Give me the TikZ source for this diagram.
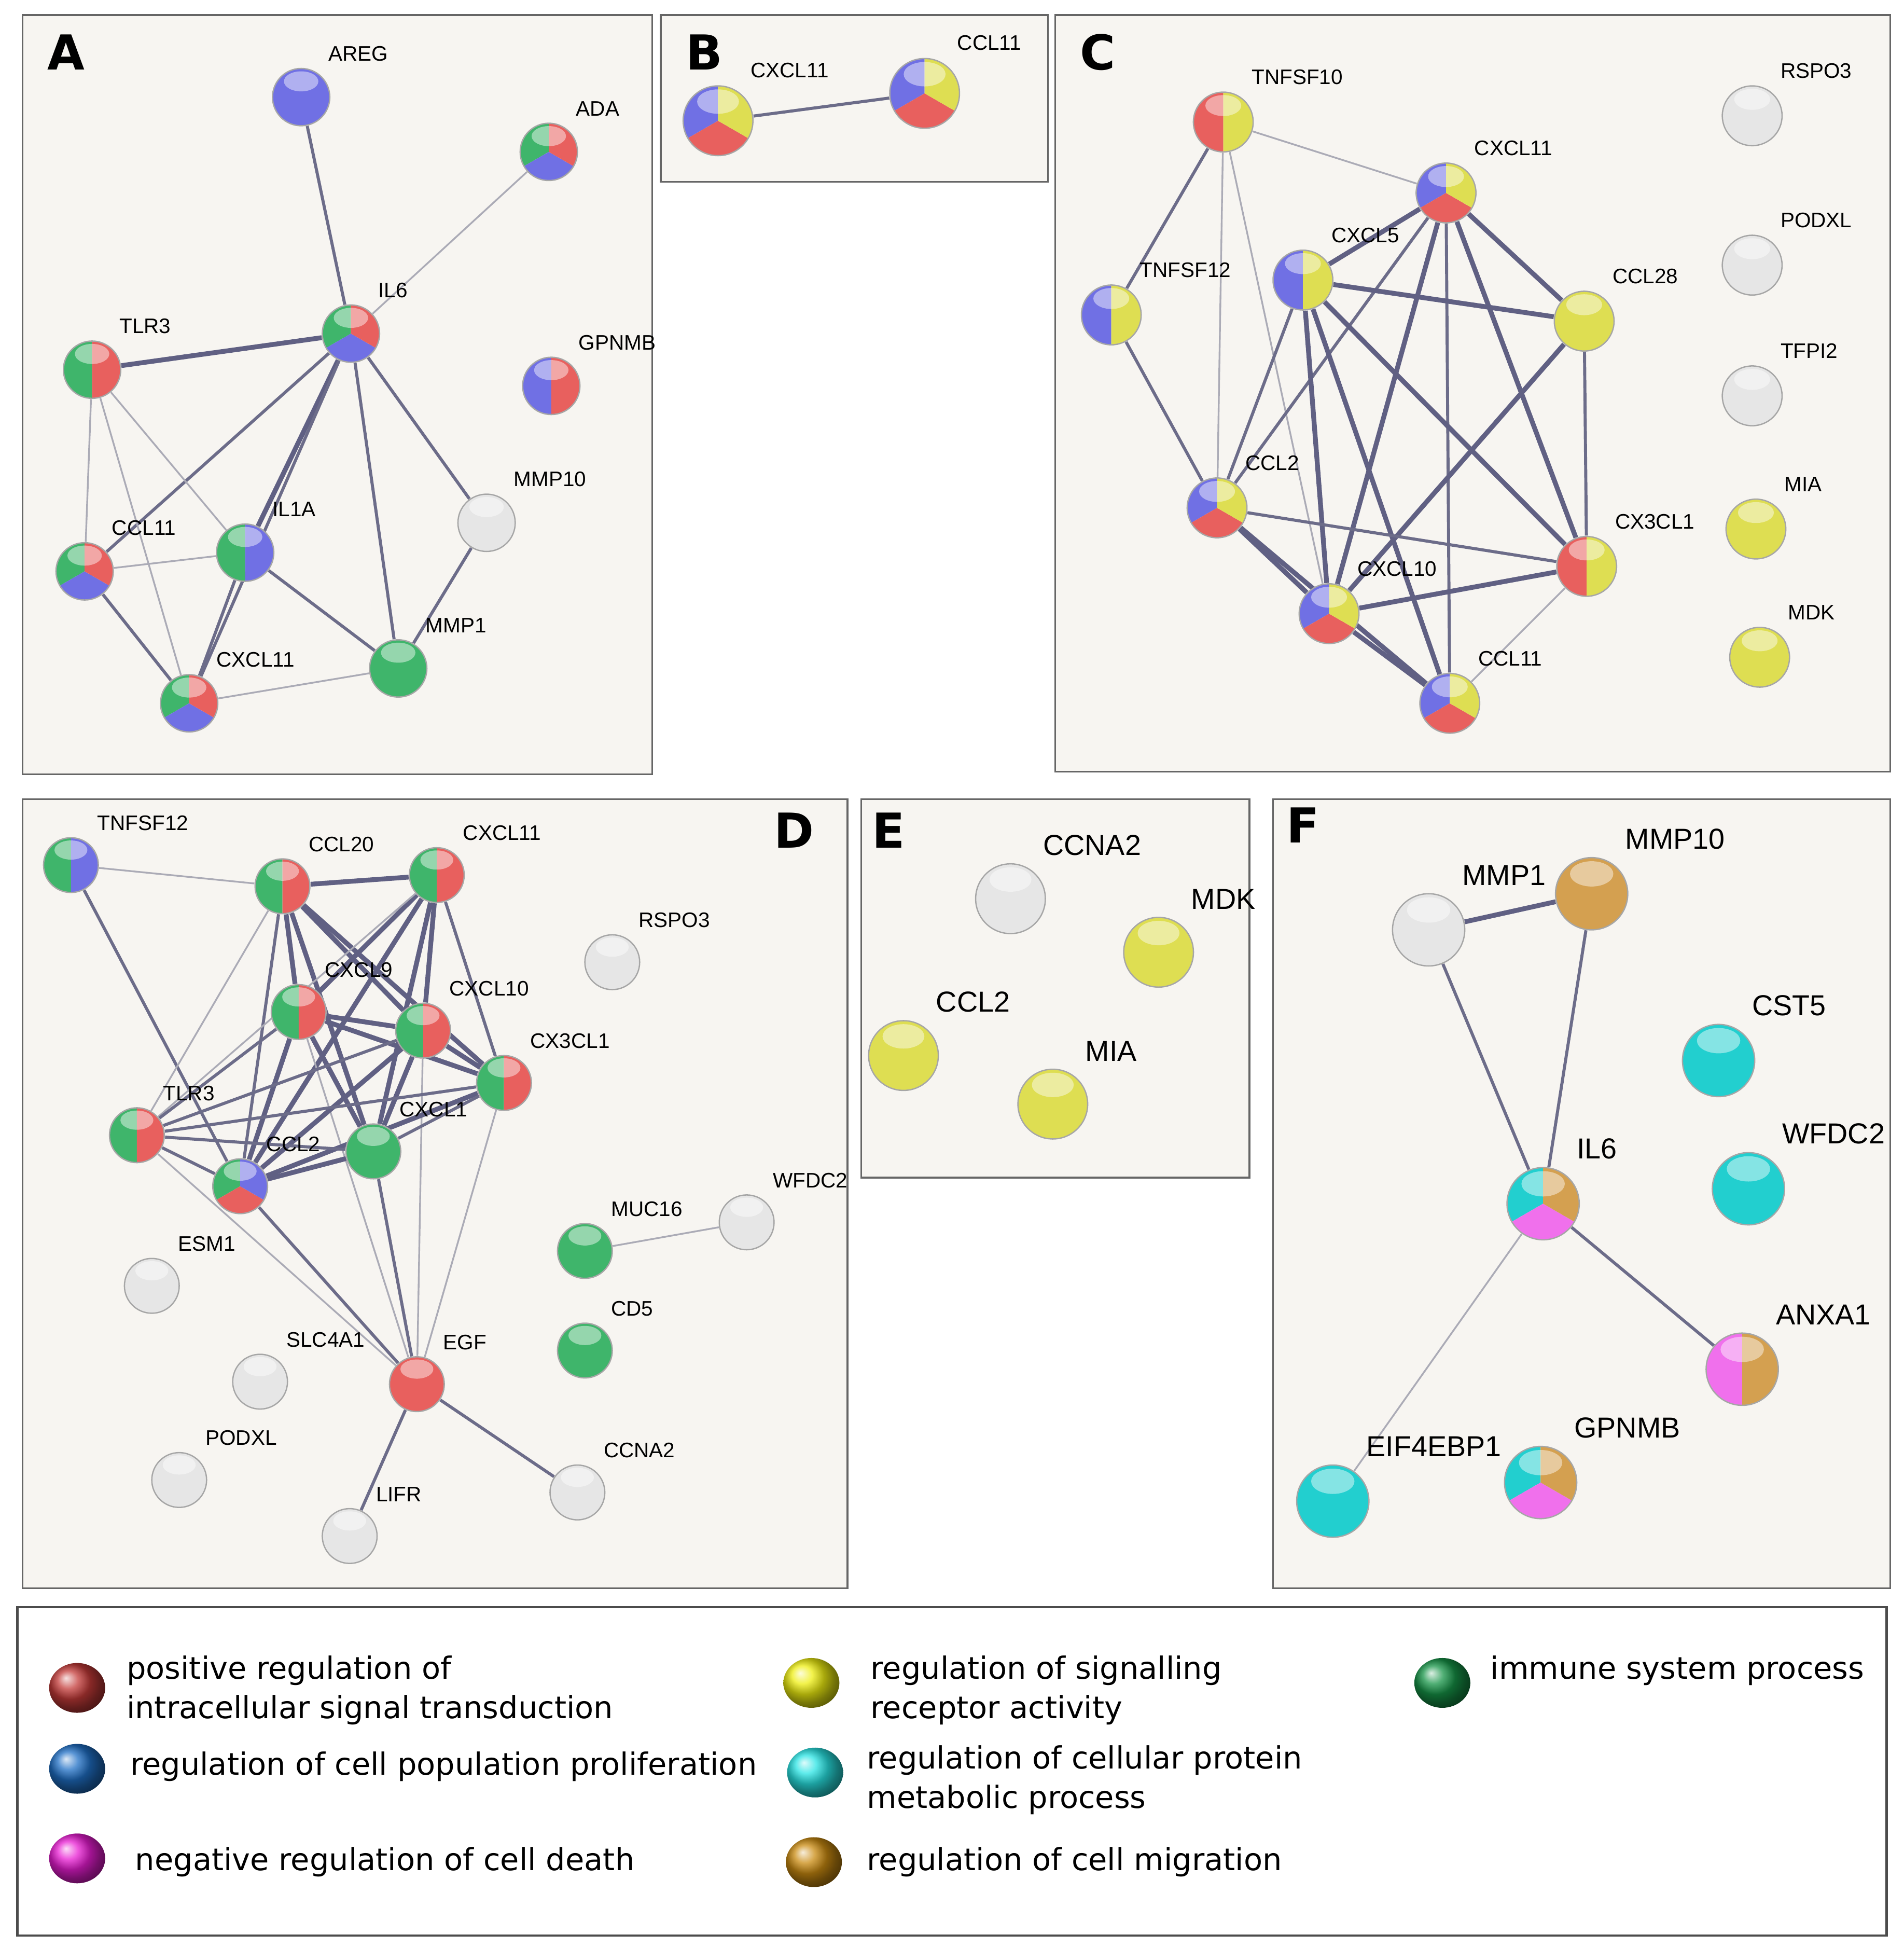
\documentclass[tikz,border=0pt]{standalone}
\usepackage{fontspec}
\usetikzlibrary{shapes.geometric}
\setmainfont{Liberation Sans}
\newfontfamily\legf{DejaVu Sans}
\newfontfamily\panf{DejaVu Sans}
\definecolor{cR}{HTML}{E8605E}\definecolor{cB}{HTML}{7070E4}\definecolor{cG}{HTML}{3FB56B}
\definecolor{cY}{HTML}{DEDE52}\definecolor{cW}{HTML}{E6E6E6}\definecolor{cC}{HTML}{22CFCF}
\definecolor{cM}{HTML}{F070EC}\definecolor{cO}{HTML}{D4A050}
\definecolor{lR}{HTML}{C33A38}\definecolor{lB}{HTML}{1F6FC5}\definecolor{lM}{HTML}{E81CD2}
\definecolor{lY}{HTML}{EEEE10}\definecolor{lC}{HTML}{28E4E4}\definecolor{lO}{HTML}{C98A10}\definecolor{lG}{HTML}{169447}
\definecolor{pan}{HTML}{F7F5F1}
\pgfdeclarelayer{bg}\pgfdeclarelayer{edges}\pgfsetlayers{bg,edges,main}
\newcommand\gball[6]{% name, pos, radius(cm), n, colors, label
 \node[circle,minimum size=#3*2cm,inner sep=0] (#1) at (#2) {};
 \foreach \c [count=\i from 0] in {#5} {
  \pgfmathsetmacro\aa{90+\i*360/#4}
  \fill[\c] (#1.center) -- ++(\aa:#3cm) arc[start angle=\aa, delta angle=360/#4, radius=#3cm] -- cycle;}
 \fill[white,opacity=.45] ([yshift={0.55*#3 cm}]#1.center) ellipse [x radius={0.6*#3 cm}, y radius={0.35*#3 cm}];
 \draw[black!35,line width=.3pt] (#1.center) circle [radius=#3cm];
 \node[lab,anchor=south west] at ([xshift={0.85*#3 cm},yshift={1.15*#3 cm}]#1.center) {#6};}
\tikzset{lab/.style={font=\fontsize{4.8}{5}\selectfont,inner sep=0.5pt},
 tk/.style={draw=black!45!blue!25!gray,line width=1.1pt},
 md/.style={draw=black!25!blue!15!gray,line width=.7pt},
 tn/.style={draw=black!25!blue!10!gray!60,line width=.4pt},
 panel/.style={draw=black!60,fill=pan,line width=.4pt},
 plet/.style={font=\panf\bfseries\fontsize{11}{12}\selectfont},
 legt/.style={font=\legf\fontsize{7}{9}\selectfont,anchor=west,align=left,inner sep=0}}
\begin{document}
\begin{tikzpicture}[x=0.01cm,y=-0.01cm]
\useasboundingbox (0,0) rectangle (1530,1565);
\begin{pgfonlayer}{bg}
\fill[white] (0,0) rectangle (1530,1565);
\draw[panel] (18,12) rectangle (524,622);
\draw[panel] (531,12) rectangle (842,146);
\draw[panel] (848,12) rectangle (1519,620);
\draw[panel] (18,642) rectangle (681,1276);
\draw[panel] (692,642) rectangle (1004,946);
\draw[panel] (1023,642) rectangle (1519,1276);
\draw[draw=black!70,fill=white,line width=.5pt] (14,1291) rectangle (1516,1555);
\end{pgfonlayer}
\node[plet] at (53,42) {A};\node[plet] at (566,42) {B};\node[plet] at (882,42) {C};
\node[plet] at (638,667) {D};\node[plet] at (714,667) {E};\node[plet] at (1047,663) {F};
% A
\gball{aAREG}{242,78}{0.23}{1}{cB}{AREG}
\gball{aADA}{441,122}{0.23}{3}{cG,cB,cR}{ADA}
\gball{aIL6}{282,268}{0.23}{3}{cG,cB,cR}{IL6}
\gball{aTLR3}{74,297}{0.23}{2}{cG,cR}{TLR3}
\gball{aGPNMB}{443,310}{0.23}{2}{cB,cR}{GPNMB}
\gball{aMMP10}{391,420}{0.23}{1}{cW}{MMP10}
\gball{aCCL11}{68,459}{0.23}{3}{cG,cB,cR}{CCL11}
\gball{aIL1A}{197,444}{0.23}{2}{cG,cB}{IL1A}
\gball{aMMP1}{320,537}{0.23}{1}{cG}{MMP1}
\gball{aCXCL11}{152,565}{0.23}{3}{cG,cB,cR}{CXCL11}
% B
\gball{bCXCL11}{577,97}{0.28}{3}{cB,cR,cY}{CXCL11}
\gball{bCCL11}{743,75}{0.28}{3}{cB,cR,cY}{CCL11}
% C
\gball{cTNFSF10}{983,98}{0.24}{2}{cR,cY}{TNFSF10}
\gball{cTNFSF12}{893,253}{0.24}{2}{cB,cY}{TNFSF12}
\gball{cCXCL11}{1162,155}{0.24}{3}{cB,cR,cY}{CXCL11}
\gball{cCXCL5}{1047,225}{0.24}{2}{cB,cY}{CXCL5}
\gball{cCCL28}{1273,258}{0.24}{1}{cY}{CCL28}
\gball{cCCL2}{978,408}{0.24}{3}{cB,cR,cY}{CCL2}
\gball{cCX3CL1}{1275,455}{0.24}{2}{cR,cY}{CX3CL1}
\gball{cCXCL10}{1068,493}{0.24}{3}{cB,cR,cY}{CXCL10}
\gball{cCCL11}{1165,565}{0.24}{3}{cB,cR,cY}{CCL11}
\gball{cRSPO3}{1408,93}{0.24}{1}{cW}{RSPO3}
\gball{cPODXL}{1408,213}{0.24}{1}{cW}{PODXL}
\gball{cTFPI2}{1408,318}{0.24}{1}{cW}{TFPI2}
\gball{cMIA}{1411,425}{0.24}{1}{cY}{MIA}
\gball{cMDK}{1414,528}{0.24}{1}{cY}{MDK}
% D
\gball{dTNFSF12}{57,695}{0.22}{2}{cG,cB}{TNFSF12}
\gball{dCCL20}{227,712}{0.22}{2}{cG,cR}{CCL20}
\gball{dCXCL11}{351,703}{0.22}{2}{cG,cR}{CXCL11}
\gball{dRSPO3}{492,773}{0.22}{1}{cW}{RSPO3}
\gball{dCXCL9}{240,813}{0.22}{2}{cG,cR}{CXCL9}
\gball{dCXCL10}{340,828}{0.22}{2}{cG,cR}{CXCL10}
\gball{dCX3CL1}{405,870}{0.22}{2}{cG,cR}{CX3CL1}
\gball{dTLR3}{110,912}{0.22}{2}{cG,cR}{TLR3}
\gball{dCXCL1}{300,925}{0.22}{1}{cG}{CXCL1}
\gball{dCCL2}{193,953}{0.22}{3}{cG,cR,cB}{CCL2}
\gball{dESM1}{122,1033}{0.22}{1}{cW}{ESM1}
\gball{dMUC16}{470,1005}{0.22}{1}{cG}{MUC16}
\gball{dWFDC2}{600,982}{0.22}{1}{cW}{WFDC2}
\gball{dCD5}{470,1085}{0.22}{1}{cG}{CD5}
\gball{dSLC4A1}{209,1110}{0.22}{1}{cW}{SLC4A1}
\gball{dEGF}{335,1112}{0.22}{1}{cR}{EGF}
\gball{dPODXL}{144,1189}{0.22}{1}{cW}{PODXL}
\gball{dCCNA2}{464,1199}{0.22}{1}{cW}{CCNA2}
\gball{dLIFR}{281,1234}{0.22}{1}{cW}{LIFR}
% E
\tikzset{lab/.append style={font=\fontsize{6.6}{7}\selectfont}}
\gball{eCCNA2}{812,722}{0.28}{1}{cW}{CCNA2}
\gball{eMDK}{931,765}{0.28}{1}{cY}{MDK}
\gball{eCCL2}{726,848}{0.28}{1}{cY}{CCL2}
\gball{eMIA}{846,887}{0.28}{1}{cY}{MIA}
% F
\gball{fMMP1}{1148,747}{0.29}{1}{cW}{MMP1}
\gball{fMMP10}{1279,718}{0.29}{1}{cO}{MMP10}
\gball{fCST5}{1381,852}{0.29}{1}{cC}{CST5}
\gball{fWFDC2}{1405,955}{0.29}{1}{cC}{WFDC2}
\gball{fIL6}{1240,967}{0.29}{3}{cC,cM,cO}{IL6}
\gball{fANXA1}{1400,1100}{0.29}{2}{cM,cO}{ANXA1}
\gball{fEIF4EBP1}{1071,1206}{0.29}{1}{cC}{EIF4EBP1}
\gball{fGPNMB}{1238,1191}{0.29}{3}{cC,cM,cO}{GPNMB}
\begin{pgfonlayer}{edges}
\foreach \s/\a/\b in {md/aAREG/aIL6,tn/aADA/aIL6,tk/aTLR3/aIL6,md/aIL6/aCCL11,tk/aIL6/aIL1A,md/aIL6/aCXCL11,md/aIL6/aMMP1,md/aIL6/aMMP10,tn/aTLR3/aCCL11,tn/aTLR3/aIL1A,tn/aTLR3/aCXCL11,tn/aCCL11/aIL1A,md/aCCL11/aCXCL11,md/aIL1A/aCXCL11,md/aIL1A/aMMP1,md/aMMP10/aMMP1,tn/aCXCL11/aMMP1,
 md/bCXCL11/bCCL11,
 tn/cTNFSF10/cCXCL11,md/cTNFSF10/cTNFSF12,tn/cTNFSF10/cCCL2,tn/cTNFSF10/cCXCL10,md/cTNFSF12/cCCL2,tk/cCXCL11/cCXCL5,md/cCXCL11/cCCL2,tk/cCXCL11/cCXCL10,md/cCXCL11/cCCL11,tk/cCXCL11/cCX3CL1,tk/cCXCL11/cCCL28,tk/cCXCL5/cCCL28,md/cCXCL5/cCCL2,tk/cCXCL5/cCXCL10,tk/cCXCL5/cCCL11,tk/cCXCL5/cCX3CL1,md/cCCL28/cCX3CL1,tk/cCCL28/cCXCL10,md/cCCL2/cCX3CL1,tk/cCCL2/cCXCL10,tk/cCCL2/cCCL11,tk/cCXCL10/cCX3CL1,tk/cCXCL10/cCCL11,tn/cCX3CL1/cCCL11,
 tn/dTNFSF12/dCCL20,md/dTNFSF12/dCCL2,tk/dCCL20/dCXCL11,tk/dCCL20/dCXCL9,tk/dCCL20/dCXCL10,tk/dCCL20/dCX3CL1,tn/dCCL20/dTLR3,md/dCCL20/dCCL2,tk/dCCL20/dCXCL1,tk/dCXCL11/dCXCL9,tk/dCXCL11/dCXCL10,md/dCXCL11/dCX3CL1,tk/dCXCL11/dCXCL1,tk/dCXCL11/dCCL2,tn/dCXCL11/dTLR3,tk/dCXCL9/dCXCL10,tk/dCXCL9/dCX3CL1,md/dCXCL9/dTLR3,tk/dCXCL9/dCXCL1,tk/dCXCL9/dCCL2,tn/dCXCL9/dEGF,tk/dCXCL10/dCX3CL1,md/dCXCL10/dTLR3,tk/dCXCL10/dCCL2,tk/dCXCL10/dCXCL1,tn/dCXCL10/dEGF,md/dCX3CL1/dTLR3,tk/dCX3CL1/dCCL2,md/dCX3CL1/dCXCL1,tn/dCX3CL1/dEGF,md/dTLR3/dCCL2,md/dTLR3/dCXCL1,tn/dTLR3/dEGF,tk/dCCL2/dCXCL1,md/dCCL2/dEGF,md/dCXCL1/dEGF,tn/dMUC16/dWFDC2,md/dEGF/dLIFR,md/dEGF/dCCNA2,
 tk/fMMP1/fMMP10,md/fMMP1/fIL6,md/fMMP10/fIL6,md/fIL6/fANXA1,tn/fIL6/fEIF4EBP1}
 \draw[\s] (\a) -- (\b);
\end{pgfonlayer}
% legend
\foreach \n/\c/\x/\y in {lr/lR/62/1356,lb/lB/62/1421,lm/lM/62/1493,ly/lY/652/1352,lc/lC/655/1424,lo/lO/654/1496,lg/lG/1159/1352}{
 \node[ellipse,minimum width=0.45cm,minimum height=0.4cm,inner sep=0] (\n) at (\x,\y) {};
 \shade[ball color=\c] (\x,\y) ellipse [x radius=0.225cm,y radius=0.2cm];}
\node[legt] (t1) at (101,1358) {positive regulation of\\intracellular signal transduction};
\node[legt] (t2) at (104,1419) {regulation of cell population proliferation};
\node[legt] (t3) at (108,1496) {negative regulation of cell death};
\node[legt] (t4) at (699,1358) {regulation of signalling\\receptor activity};
\node[legt] (t5) at (696,1430) {regulation of cellular protein\\metabolic process};
\node[legt] (t6) at (696,1496) {regulation of cell migration};
\node[legt] (t7) at (1197,1342) {immune system process};
\end{tikzpicture}
\end{document}
